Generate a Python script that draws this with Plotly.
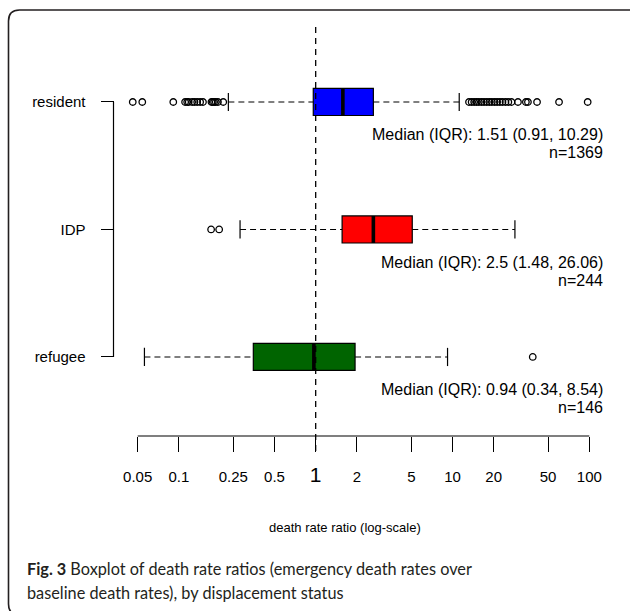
import math
import plotly.graph_objects as go

# ---------------- data ----------------
groups = ["resident", "IDP", "refugee"]
positions = [3, 2, 1]
box_colors = ["#0000FF", "#FF0000", "#006400"]
q1 = [0.96, 1.56, 0.35]
median = [1.58, 2.64, 0.97]
q3 = [2.64, 5.08, 1.94]
whisker_lo = [0.23, 0.28, 0.056]
whisker_hi = [11.2, 28.6, 9.2]
outliers_resident = [0.046, 0.054, 0.091, 0.111, 0.115, 0.118, 0.125, 0.130, 0.136,
                     0.143, 0.150, 0.173, 0.177, 0.181, 0.186, 0.193, 0.211,
                     13.2, 13.8, 14.4, 15.0, 15.6, 16.3, 17.0, 17.8, 18.6, 19.4,
                     20.3, 21.2, 22.2, 23.2, 24.4, 25.6, 27.0, 30.1, 34.4, 35.6,
                     41.5, 60.1, 97.3]
outliers_idp = [0.172, 0.197]
outliers_refugee = [38.6]
outliers = [outliers_resident, outliers_idp, outliers_refugee]
median_labels = ["Median (IQR): 1.51 (0.91, 10.29)",
                 "Median (IQR): 2.5 (1.48, 26.06)",
                 "Median (IQR): 0.94 (0.34, 8.54)"]
n_labels = ["n=1369", "n=244", "n=146"]
tick_vals = [0.05, 0.1, 0.25, 0.5, 1, 2, 5, 10, 20, 50, 100]
tick_text = ["0.05", "0.1", "0.25", "0.5", "<span style='font-size:21px'>1</span>",
             "2", "5", "10", "20", "50", "100"]
x_title = "death rate ratio (log-scale)"
caption_1 = "<b>Fig. 3</b> Boxplot of death rate ratios (emergency death rates over"
caption_2 = "baseline death rates), by displacement status"

# ---------------- layout geometry ----------------
FW, FH = 630, 611
ML, MR, MT, MB = 20, 20, 26, 175
PW, PH = FW - ML - MR, FH - MT - MB


def px_x(px):
    return (px - ML) / PW


def px_y(py):
    return (FH - MB - py) / PH


# x axis: tick 0.05 at 137.7 px, tick 100 at 589.3 px
X_LO_PX, X_HI_PX = 137.7, 589.3
DEC = (X_HI_PX - X_LO_PX) / (math.log10(max(tick_vals)) - math.log10(min(tick_vals)))
RANGE = [-1.42, 2.06]


def log_px(lv):
    return X_LO_PX + (lv - math.log10(min(tick_vals))) * DEC


X_DOMAIN = [px_x(log_px(RANGE[0])), px_x(log_px(RANGE[1]))]

FONT = "Liberation Sans, Arial, sans-serif"
HALF = 0.106  # half box height in y units

fig = go.Figure()

for g, pos, col, a, m, b, lo, hi, outs in zip(groups, positions, box_colors, q1, median, q3,
                                              whisker_lo, whisker_hi, outliers):
    fig.add_trace(go.Scatter(x=[lo, a, None, b, hi], y=[pos, pos, None, pos, pos],
                             mode="lines", line=dict(color="black", width=1.1, dash="6px,4px"),
                             hoverinfo="skip", showlegend=False))
    fig.add_trace(go.Scatter(x=[lo, hi], y=[pos, pos], mode="markers",
                             marker=dict(symbol="line-ns", size=13,
                                         line=dict(color="black", width=1.2)),
                             hoverinfo="skip", showlegend=False))
    fig.add_trace(go.Box(y=[pos], q1=[a], median=[m], q3=[b], lowerfence=[a], upperfence=[b],
                         orientation="h", width=2 * HALF, fillcolor=col,
                         line=dict(color="black", width=1.2), whiskerwidth=0,
                         boxpoints=False, name=g, showlegend=False))
    fig.add_trace(go.Scatter(x=[m, m], y=[pos - HALF, pos + HALF], mode="lines",
                             line=dict(color="black", width=3.6),
                             hoverinfo="skip", showlegend=False))
    fig.add_trace(go.Scatter(x=outs, y=[pos] * len(outs), mode="markers",
                             marker=dict(symbol="circle-open", size=6.5,
                                         line=dict(color="black", width=1.3), color="black"),
                             hoverinfo="skip", showlegend=False))

annotations = []
for pos, ml, nl in zip(positions, median_labels, n_labels):
    annotations.append(dict(x=px_x(605), y=pos, xref="paper", yref="y", text=ml,
                            xanchor="right", yanchor="middle", yshift=-33, showarrow=False,
                            font=dict(family=FONT, size=16, color="black")))
    annotations.append(dict(x=px_x(605), y=pos, xref="paper", yref="y", text=nl,
                            xanchor="right", yanchor="middle", yshift=-51, showarrow=False,
                            font=dict(family=FONT, size=16, color="black")))
annotations.append(dict(x=px_x(345), y=px_y(527), xref="paper", yref="paper", text=x_title,
                        xanchor="center", yanchor="middle", showarrow=False,
                        font=dict(family=FONT, size=13, color="black")))
annotations.append(dict(x=px_x(25), y=px_y(568), xref="paper", yref="paper", text=caption_1,
                        xanchor="left", yanchor="middle", showarrow=False,
                        font=dict(family="Lato, sans-serif", size=16.3, color="#231f20")))
annotations.append(dict(x=px_x(25), y=px_y(592), xref="paper", yref="paper", text=caption_2,
                        xanchor="left", yanchor="middle", showarrow=False,
                        font=dict(family="Lato, sans-serif", size=16.3, color="#231f20")))

lx, ty, by, r = 8.5, 10, 615, 11
frame = (f"M {px_x(FW + 10)},{px_y(ty)} L {px_x(lx + r)},{px_y(ty)} "
         f"Q {px_x(lx)},{px_y(ty)} {px_x(lx)},{px_y(ty + r)} "
         f"L {px_x(lx)},{px_y(by - r)} Q {px_x(lx)},{px_y(by)} {px_x(lx + r)},{px_y(by)} "
         f"L {px_x(FW + 10)},{px_y(by)}")

shapes = [
    dict(type="path", path=frame, xref="paper", yref="paper",
         line=dict(color="#231f20", width=1.6)),
    dict(type="line", xref="paper", yref="y", x0=px_x(113.5), x1=px_x(113.5),
         y0=min(positions), y1=max(positions), line=dict(color="black", width=1.2)),
    dict(type="line", xref="x", yref="paper", x0=min(tick_vals), x1=max(tick_vals),
         y0=0, y1=0, line=dict(color="black", width=1.2)),
    dict(type="line", xref="x", yref="paper", x0=1, x1=1, y0=px_y(451), y1=1,
         line=dict(color="black", width=1.3, dash="6px,5px"), layer="above"),
]

fig.update_layout(
    width=FW, height=FH,
    margin=dict(l=ML, r=MR, t=MT, b=MB, autoexpand=False),
    paper_bgcolor="white", plot_bgcolor="white",
    showlegend=False,
    xaxis=dict(type="log", range=RANGE, domain=X_DOMAIN,
               tickvals=tick_vals, ticktext=tick_text, ticks="outside", ticklen=15,
               tickwidth=1.2, tickcolor="black", showline=False,
               showgrid=False, zeroline=False, ticklabelstandoff=12, automargin=False,
               tickfont=dict(family=FONT, size=15, color="black")),
    yaxis=dict(range=[0.38, 3.596], anchor="free", position=px_x(113.5),
               tickvals=positions, ticktext=groups, ticks="outside", ticklen=13,
               tickwidth=1.2, tickcolor="black", showline=False, showgrid=False,
               zeroline=False, ticklabelstandoff=12, automargin=False,
               tickfont=dict(family=FONT, size=15, color="black")),
    annotations=annotations,
    shapes=shapes,
)

fig.write_html("out.html")
